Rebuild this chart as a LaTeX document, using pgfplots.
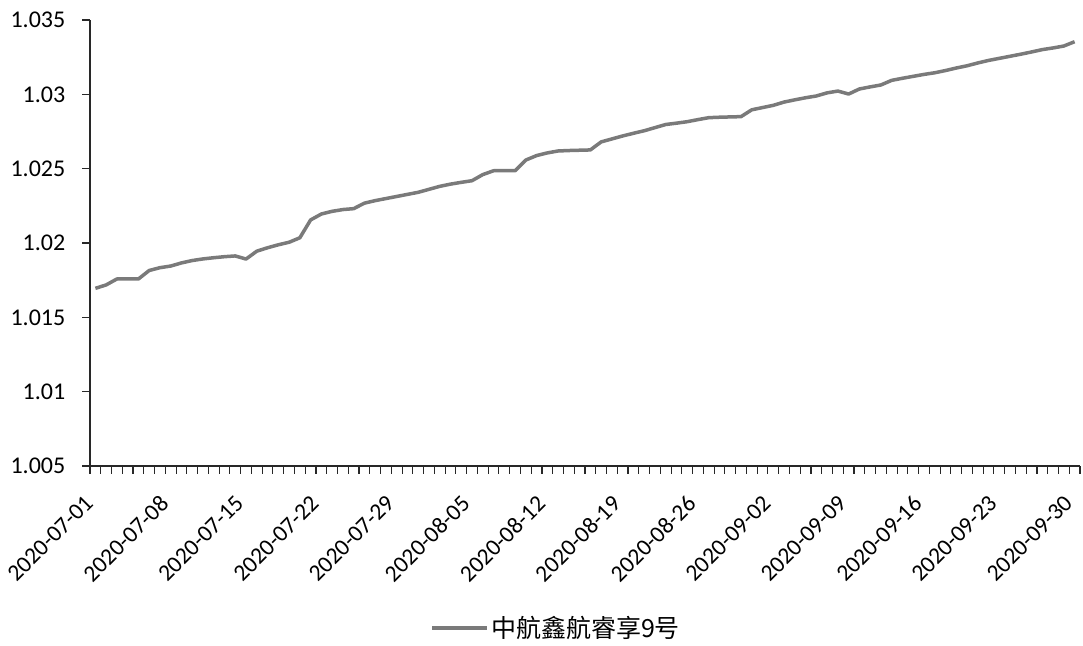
\documentclass[border=0pt]{standalone}
\usepackage{fontspec}
\setmainfont{Carlito}
\newfontfamily\cjk{Noto Sans CJK SC}
\usepackage{pgfplots}
\pgfplotsset{compat=1.18}
\usepackage{pgfplotstable}
\definecolor{navline}{RGB}{122,122,122}
\definecolor{axisline}{RGB}{40,40,40}

% daily net value, 2020-07-01 = day 0
\pgfplotstableread{
day nav
0 1.01695
1 1.01718
2 1.01758
3 1.01758
4 1.01758
5 1.01815
6 1.01834
7 1.01845
8 1.01866
9 1.01882
10 1.01893
11 1.01901
12 1.01908
13 1.01913
14 1.01892
15 1.01945
16 1.01968
17 1.01988
18 1.02005
19 1.02035
20 1.02155
21 1.02195
22 1.02213
23 1.02225
24 1.02231
25 1.02268
26 1.02285
27 1.02299
28 1.02313
29 1.02327
30 1.02341
31 1.02361
32 1.02381
33 1.02396
34 1.02408
35 1.02419
36 1.02460
37 1.02486
38 1.02486
39 1.02486
40 1.02558
41 1.02588
42 1.02606
43 1.02619
44 1.02622
45 1.02624
46 1.02626
47 1.02680
48 1.02700
49 1.02720
50 1.02738
51 1.02755
52 1.02776
53 1.02797
54 1.02806
55 1.02816
56 1.02830
57 1.02843
58 1.02846
59 1.02848
60 1.02850
61 1.02896
62 1.02911
63 1.02926
64 1.02948
65 1.02963
66 1.02977
67 1.02989
68 1.03010
69 1.03022
70 1.03002
71 1.03036
72 1.03050
73 1.03063
74 1.03094
75 1.03108
76 1.03121
77 1.03134
78 1.03145
79 1.03160
80 1.03177
81 1.03192
82 1.03211
83 1.03228
84 1.03242
85 1.03256
86 1.03270
87 1.03285
88 1.03301
89 1.03312
90 1.03325
91 1.03354
}\navdata

\begin{document}
\begin{tikzpicture}
\useasboundingbox (-90pt,-179pt) rectangle (993pt,466pt);
\begin{axis}[
    at={(0pt,0pt)}, anchor=south west,
    scale only axis, width=990pt, height=446pt,
    xmin=-0.5, xmax=91.5, ymin=1.005, ymax=1.035,
    axis x line*=bottom, axis y line*=left,
    axis line style={axisline, line width=1.3pt},
    tick align=outside,
    major tick length=7.5pt,
    tick style={axisline, line width=1.1pt},
    xtick={-0.5,0.5,...,91.5},
    xticklabels={},
    extra x ticks={0,7,...,91},
    extra x tick labels={2020-07-01,2020-07-08,2020-07-15,2020-07-22,2020-07-29,2020-08-05,2020-08-12,2020-08-19,2020-08-26,2020-09-02,2020-09-09,2020-09-16,2020-09-23,2020-09-30},
    extra x tick style={major tick length=0pt},
    xticklabel style={xshift=-12pt, yshift=-25pt, rotate=45, anchor=north east,
        font=\fontsize{23.5}{23.5}\selectfont, inner sep=2pt},
    ytick={1.005,1.01,1.015,1.02,1.025,1.03,1.035},
    yticklabels={1.005,1.01,1.015,1.02,1.025,1.03,1.035},
    yticklabel style={font=\fontsize{24}{24}\selectfont, inner sep=2pt, xshift=-15pt},
    legend style={at={(0.471,-0.363)}, anchor=center, draw=none, fill=none,
        font=\cjk\fontsize{25}{25}\selectfont, inner sep=0pt},
    legend image code/.code={\draw[#1] (0pt,0pt) -- (55pt,0pt);},
    clip=false,
]
\addplot[navline, line width=3.5pt, line join=round] table[x=day, y=nav] {\navdata};
\addlegendentry{中航鑫航睿享9号}
\end{axis}
\end{tikzpicture}
\end{document}
